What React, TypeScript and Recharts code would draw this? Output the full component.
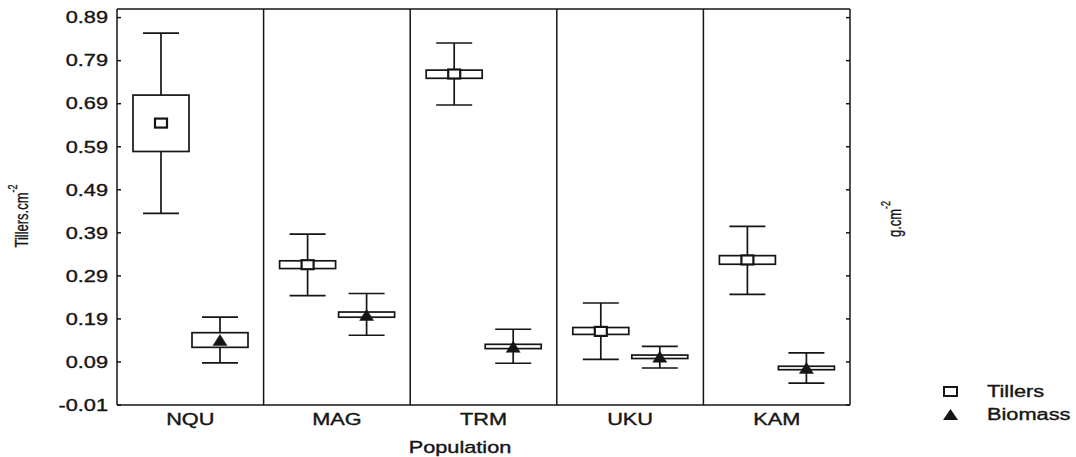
import React from "react";
import { ComposedChart, Bar, XAxis, YAxis, CartesianGrid } from "recharts";

// populations and the box/whisker stats
const populations = ["NQU", "MAG", "TRM", "UKU", "KAM"];

const tillersMean = [0.645, 0.316, 0.759, 0.161, 0.327];
const tillersBoxLow = [0.579, 0.307, 0.749, 0.154, 0.317];
const tillersBoxHigh = [0.71, 0.325, 0.768, 0.17, 0.337];
const tillersWhiskerLow = [0.435, 0.244, 0.687, 0.096, 0.247];
const tillersWhiskerHigh = [0.854, 0.387, 0.831, 0.227, 0.405];

const biomassMean = [0.14, 0.198, 0.124, 0.101, 0.075];
const biomassBoxLow = [0.124, 0.194, 0.121, 0.098, 0.072];
const biomassBoxHigh = [0.158, 0.206, 0.131, 0.106, 0.08];
const biomassWhiskerLow = [0.088, 0.152, 0.087, 0.076, 0.041];
const biomassWhiskerHigh = [0.194, 0.249, 0.166, 0.126, 0.111];

const yTicks = [-0.01, 0.09, 0.19, 0.29, 0.39, 0.49, 0.59, 0.69, 0.79, 0.89];

const data = populations.map((name, i) => ({
  name,
  tillers: [tillersWhiskerLow[i], tillersWhiskerHigh[i]],
  biomass: [biomassWhiskerLow[i], biomassWhiskerHigh[i]],
  tillersStats: {
    mean: tillersMean[i],
    boxLow: tillersBoxLow[i],
    boxHigh: tillersBoxHigh[i],
    lo: tillersWhiskerLow[i],
    hi: tillersWhiskerHigh[i],
  },
  biomassStats: {
    mean: biomassMean[i],
    boxLow: biomassBoxLow[i],
    boxHigh: biomassBoxHigh[i],
    lo: biomassWhiskerLow[i],
    hi: biomassWhiskerHigh[i],
  },
}));

const FONT = "'Liberation Sans', Arial, sans-serif";
const INK = "#151515";
const STRETCH = 1.36; // the scanned figure is wider than it is tall
const TEXT_WEIGHT = 0.35; // thin outline to mimic the heavy scan print

const BoxShape = (props: any) => {
  const { x, y, width, height, payload, kind } = props;
  const s = payload[kind + "Stats"];
  const top = Math.min(y, y + height);
  const h = Math.abs(height);
  // map a value to a pixel inside the bar that spans the whiskers
  const py = (v: number) => top + ((s.hi - v) / (s.hi - s.lo)) * h;
  const cx = x + width / 2;
  const cap = 18;
  const yBoxTop = py(s.boxHigh);
  const yBoxBot = py(s.boxLow);
  const ym = py(s.mean);
  return (
    <g stroke={INK} strokeWidth={1.7} fill="none">
      <line x1={cx} x2={cx} y1={top} y2={top + h} />
      <line x1={cx - cap} x2={cx + cap} y1={top} y2={top} />
      <line x1={cx - cap} x2={cx + cap} y1={top + h} y2={top + h} />
      <rect x={x} y={yBoxTop} width={width} height={Math.max(yBoxBot - yBoxTop, 2)} fill="#fff" />
      {kind === "tillers" ? (
        <rect x={cx - 6} y={ym - 4.5} width={12} height={9} fill="#fff" strokeWidth={2.2} />
      ) : (
        <polygon
          points={`${cx - 7},${ym + 5} ${cx + 7},${ym + 5} ${cx},${ym - 6}`}
          fill={INK}
          strokeWidth={0.5}
        />
      )}
    </g>
  );
};

const YTick = (props: any) => {
  const { x, y, payload } = props;
  return (
    <g transform={`translate(${x},${y})`}>
      <text
        transform={`scale(${STRETCH},1)`}
        textAnchor="end"
        dy="0.36em"
        fontFamily={FONT}
        fontSize={16}
        fill={INK}
        stroke={INK}
        strokeWidth={TEXT_WEIGHT}
      >
        {Number(payload.value).toFixed(2)}
      </text>
    </g>
  );
};

const XTick = (props: any) => {
  const { x, y, payload } = props;
  return (
    <g transform={`translate(${x},${y})`}>
      <text
        transform={`scale(${STRETCH},1)`}
        textAnchor="middle"
        dy="0.71em"
        fontFamily={FONT}
        fontSize={16}
        fill={INK}
        stroke={INK}
        strokeWidth={TEXT_WEIGHT}
      >
        {payload.value}
      </text>
    </g>
  );
};

const RotatedLabel = ({ cx, cy, text }: { cx: number; cy: number; text: string }) => (
  <g transform={`translate(${cx},${cy}) scale(${STRETCH},1) rotate(-90)`}>
    <text
      textAnchor="middle"
      dy="0.35em"
      fontFamily={FONT}
      fontSize={13}
      fill={INK}
      stroke={INK}
      strokeWidth={0.25}
    >
      {text}
      <tspan fontSize={9} dy="-0.9em">
        -2
      </tspan>
    </text>
  </g>
);

const Legend = () => (
  <div
    style={{
      position: "absolute",
      left: 940,
      top: 380,
      fontFamily: FONT,
      fontSize: 16,
      color: INK,
      lineHeight: "23px",
      WebkitTextStroke: `${TEXT_WEIGHT}px ${INK}`,
    }}
  >
    {[
      { label: "Tillers", marker: <rect x={4} y={6} width={13} height={9} fill="#fff" stroke={INK} strokeWidth={2} /> },
      { label: "Biomass", marker: <polygon points="3,16 18,16 10.5,5" fill={INK} /> },
    ].map((item) => (
      <div key={item.label} style={{ display: "flex", alignItems: "center", height: 23 }}>
        <svg width={22} height={21} style={{ display: "block" }}>
          {item.marker}
        </svg>
        <span
          style={{
            display: "inline-block",
            marginLeft: 25,
            transform: `scaleX(${STRETCH})`,
            transformOrigin: "left center",
          }}
        >
          {item.label}
        </span>
      </div>
    ))}
  </div>
);

export default function App() {
  return (
    <div style={{ position: "absolute", left: 0, top: 0, width: 1076, height: 457, background: "#fff" }}>
      <ComposedChart
        width={1076}
        height={457}
        data={data}
        margin={{ top: 9, right: 216, bottom: 0, left: 0 }}
        barGap={3}
      >
        <CartesianGrid
          stroke={INK}
          strokeWidth={1.5}
          verticalCoordinatesGenerator={({ offset }: any) =>
            [1, 2, 3, 4].map((i) => offset.left + (i * offset.width) / populations.length)
          }
          horizontalCoordinatesGenerator={({ offset }: any) => [offset.top]}
        />
        <XAxis
          dataKey="name"
          height={52}
          stroke={INK}
          strokeWidth={1.5}
          tickLine={false}
          tickSize={0}
          tickMargin={9}
          tick={<XTick />}
          label={{
            content: () => (
              <g transform="translate(460,453)">
                <text
                  transform={`scale(${STRETCH},1)`}
                  textAnchor="middle"
                  fontFamily={FONT}
                  fontSize={16}
                  fill={INK}
                  stroke={INK}
                  strokeWidth={TEXT_WEIGHT}
                >
                  Population
                </text>
              </g>
            ),
          }}
        />
        <YAxis
          yAxisId="left"
          width={117}
          type="number"
          domain={[-0.01, 0.91]}
          ticks={yTicks}
          allowDataOverflow
          stroke={INK}
          strokeWidth={1.5}
          tickSize={-4}
          tickMargin={13}
          tick={<YTick />}
          label={{ content: () => <RotatedLabel cx={22} cy={216} text="Tillers.cm" /> }}
        />
        <YAxis
          yAxisId="right"
          orientation="right"
          width={10}
          type="number"
          domain={[-0.01, 0.91]}
          ticks={yTicks}
          allowDataOverflow
          stroke={INK}
          strokeWidth={1.5}
          tickSize={-4}
          tick={() => <g />}
          label={{ content: () => <RotatedLabel cx={895} cy={219} text="g.cm" /> }}
        />
        <Bar
          yAxisId="left"
          dataKey="tillers"
          barSize={56}
          isAnimationActive={false}
          shape={(p: any) => <BoxShape {...p} kind="tillers" />}
        />
        <Bar
          yAxisId="left"
          dataKey="biomass"
          barSize={56}
          isAnimationActive={false}
          shape={(p: any) => <BoxShape {...p} kind="biomass" />}
        />
      </ComposedChart>
      <Legend />
    </div>
  );
}
